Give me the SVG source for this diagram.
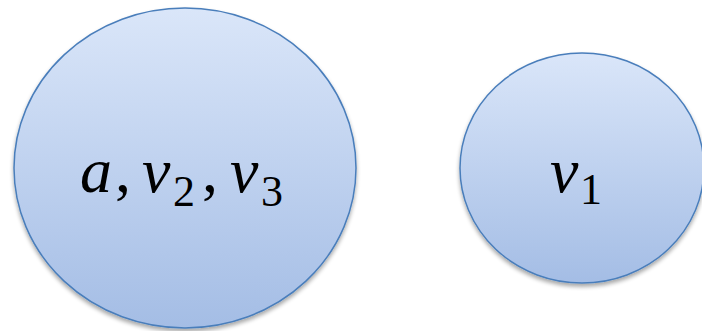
<svg xmlns="http://www.w3.org/2000/svg" width="702" height="331" viewBox="0 0 702 331">
<style>
.node{stroke:#4a7ebb;stroke-width:1.5;fill:url(#g);filter:url(#sh)}
.t{font-family:"Liberation Serif","DejaVu Serif",serif;font-size:64px;fill:#000}
.i{font-style:italic}
.s{font-size:44px}
</style>
<defs>
<linearGradient id="g" x1="0" y1="0" x2="0" y2="1">
<stop offset="0" stop-color="#dae6f9"/>
<stop offset="1" stop-color="#a4bde5"/>
</linearGradient>
<filter id="sh" x="-10%" y="-10%" width="120%" height="125%">
<feGaussianBlur in="SourceAlpha" stdDeviation="2"/>
<feOffset dx="0" dy="3" result="b"/>
<feComponentTransfer><feFuncA type="linear" slope="0.35"/></feComponentTransfer>
<feMerge><feMergeNode/><feMergeNode in="SourceGraphic"/></feMerge>
</filter>
</defs>
<g id="connectors"></g>
<g id="node-a-v2-v3">
<ellipse class="node" cx="185" cy="168" rx="171" ry="160"/>
<text class="t" y="192"><tspan class="i" x="80">a</tspan><tspan x="115">,</tspan><tspan class="i" x="142">v</tspan><tspan class="s" x="173" y="206">2</tspan><tspan x="202" y="192">,</tspan><tspan class="i" x="230">v</tspan><tspan class="s" x="261" y="206">3</tspan></text>
</g>
<g id="node-v1">
<ellipse class="node" cx="582" cy="168" rx="122" ry="115"/>
<text class="t" y="192"><tspan class="i" x="550">v</tspan><tspan class="s" x="580" y="204">1</tspan></text>
</g>
</svg>
